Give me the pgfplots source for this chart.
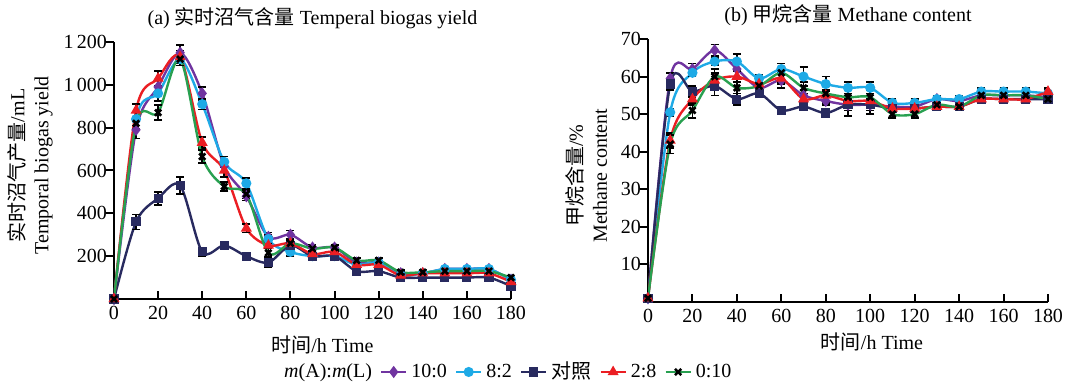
\documentclass[border=0pt]{standalone}
\usepackage{fontspec}
\setmainfont{Liberation Serif}
\newfontfamily\cjk{Noto Sans CJK SC}
\usepackage{pgfplots}
\usepackage{pgfplotstable}
\pgfplotsset{compat=1.18}
\definecolor{cP}{RGB}{112,52,160}
\definecolor{cB}{RGB}{30,170,230}
\definecolor{cN}{RGB}{40,42,95}
\definecolor{cR}{RGB}{235,30,35}
\definecolor{cG}{RGB}{40,160,80}

\pgfplotstableread{
x   p    pe  b    be  n    ne  r    re  g    ge
0   0    5   0    5   0    5   0    5   0    5
10  790  40  840  30  360  35  880  30  820  25
20  990  30  960  35  470  30  1030 35  870  35
30  1150 35  1120 30  530  40  1130 30  1120 30
40  960  30  910  25  220  20  730  25  665  30
50  620  25  640  25  250  15  600  30  525  20
60  480  20  540  25  200  15  330  20  490  20
70  290  20  280  20  170  20  250  15  215  20
80  300  20  220  20  250  20  260  15  260  15
90  240  15  200  10  200  15  210  10  235  10
100 240  15  200  10  200  15  220  10  240  10
110 170  10  160  10  130  10  160  10  180  10
120 170  10  170  10  130  10  160  10  180  10
130 120  10  110  10  100  10  110  10  125  10
140 120  10  120  10  100  10  120  10  125  10
150 140  10  140  10  100  10  120  10  130  10
160 140  10  140  10  100  10  120  10  130  10
170 140  10  140  10  100  10  120  10  130  10
180 90   10  90   10  60   10  80   10  100  10
}\biogas

\pgfplotstableread{
x   p    pe   b    be   n    ne   r    re   g    ge
0   1    0.5  1    0.5  1    0.5  1    0.5  1    0.5
10  59.5 1.5  50.5 1    58   1.5  43   2    42   2.5
20  62   1.5  61   1    56   1.5  54   1.5  51   2
30  67   1.5  64   1    57.5 2.5  59   2    60   2
40  62   2    64   2    54   1.5  60   1.5  57   1.5
50  57   1    59.5 1    55.5 1    58   1    57.5 1
60  59   2    62   1.5  51   1    59.5 1.5  61   2.5
70  55   1.5  60   2.5  52   1    54   1.5  57   1.5
80  53.5 1    58   2    50.3 1    55   1.5  55.5 2.5
90  52.5 1.5  57   1.5  52.5 3    53.5 1.5  54.5 2
100 52.5 1.5  57   1.5  52.5 2.5  53.5 1.5  54.5 2
110 52   1    53   1    51.5 1    51.5 1    50   1
120 52   1    53   1    51.5 1    51.5 1    50   1
130 54   1    54   1    52   1    52   1    52.5 1
140 53.5 1    54   1    52   1    52   1    52   1
150 55   1    56   1    54   1    54   1    55   1
160 55   1    56   1    54   1    54   1    55   1
170 55   1    56   1    54   1    54   1    55   1
180 54.5 1    55.5 1    54   1    56   1    54   1
}\methane

\pgfplotsset{
  panel/.style={
    scale only axis,
    axis lines*=left,
    axis line style={line width=1.1pt,-},
    tick align=inside,
    major tick length=4pt,
    tick style={black,line width=1pt},
    ytick style={xshift=-4pt},
    xmin=0, xmax=180,
    xtick={0,20,...,180},
    ymin=0,
    font=\fontsize{10}{12}\selectfont,
    /pgf/number format/assume math mode=true,
    /pgf/number format/1000 sep={\,},
    every axis plot/.append style={line width=1.2pt, smooth},
    error bars/y dir=both,
    error bars/y explicit,
    error bars/error bar style={black, line width=0.8pt, solid},
    error bars/error mark options={black, rotate=90, mark size=2pt, line width=0.8pt},
    title style={yshift=-3pt},
  },
  sP/.style={color=cP, mark=diamond*, mark size=2.1pt, mark options={fill=cP}},
  sB/.style={color=cB, mark=*, mark size=1.9pt, mark options={fill=cB}},
  sN/.style={color=cN, mark=square*, mark size=1.7pt, mark options={fill=cN}},
  sR/.style={color=cR, mark=triangle*, mark size=2pt, mark options={fill=cR}},
  sG/.style={color=cG, mark=x, mark size=2.2pt, mark options={black, line width=1.3pt}},
}

\begin{document}
\begin{tikzpicture}
\useasboundingbox (0,0) rectangle (539pt,191.5pt);
\begin{axis}[panel,
  at={(57pt,42pt)}, anchor=south west,
  width=198.5pt, height=128.5pt,
  ymax=1200, ytick={200,400,...,1200},
  title={(a) {\cjk 实时沼气含量} Temperal biogas yield},
  xlabel={{\cjk 时间}/h Time},
  ylabel={{\cjk 实时沼气产量}/mL\\Temporal biogas yield},
  every axis x label/.style={at={(axis description cs:0.525,-0.18)}, anchor=center},
  every axis y label/.style={at={(axis description cs:-0.2116,0.52)}, rotate=90, anchor=center, align=center},
  legend style={at={(axis description cs:0.992,-0.284)}, anchor=center, legend columns=6, draw=none, fill=none,
    font=\fontsize{10}{12}\selectfont,
    /tikz/every even column/.append style={column sep=2pt},
    /tikz/every odd column/.append style={column sep=0pt}},
  legend image code/.code={\draw[mark repeat=2,mark phase=2,#1] plot coordinates {(0cm,0cm) (0.22cm,0cm) (0.44cm,0cm)};},
]
\addlegendimage{empty legend}
\addlegendentry{\textit{m}(A):\textit{m}(L)\hspace{6pt}}
\addplot[sP] table[x=x, y=p, y error=pe] {\biogas};
\addlegendentry{10:0}
\addplot[sB] table[x=x, y=b, y error=be] {\biogas};
\addlegendentry{8:2}
\addplot[sN] table[x=x, y=n, y error=ne] {\biogas};
\addlegendentry{{\cjk 对照}}
\addplot[sR] table[x=x, y=r, y error=re] {\biogas};
\addlegendentry{2:8}
\addplot[sG] table[x=x, y=g, y error=ge] {\biogas};
\addlegendentry{0:10}
\end{axis}

\begin{axis}[panel,
  at={(324pt,40.5pt)}, anchor=south west,
  width=200pt, height=131.5pt,
  ymax=70, ytick={10,20,...,70},
  title={(b) {\cjk 甲烷含量} Methane content},
  xlabel={{\cjk 时间}/h Time},
  ylabel={{\cjk 甲烷含量}/\%\\Methane content},
  every axis x label/.style={at={(axis description cs:0.56,-0.152)}, anchor=center},
  every axis y label/.style={at={(axis description cs:-0.154,0.48)}, rotate=90, anchor=center, align=center},
]
\addplot[sP] table[x=x, y=p, y error=pe] {\methane};
\addplot[sB] table[x=x, y=b, y error=be] {\methane};
\addplot[sN] table[x=x, y=n, y error=ne] {\methane};
\addplot[sR] table[x=x, y=r, y error=re] {\methane};
\addplot[sG] table[x=x, y=g, y error=ge] {\methane};
\end{axis}
\end{tikzpicture}
\end{document}
